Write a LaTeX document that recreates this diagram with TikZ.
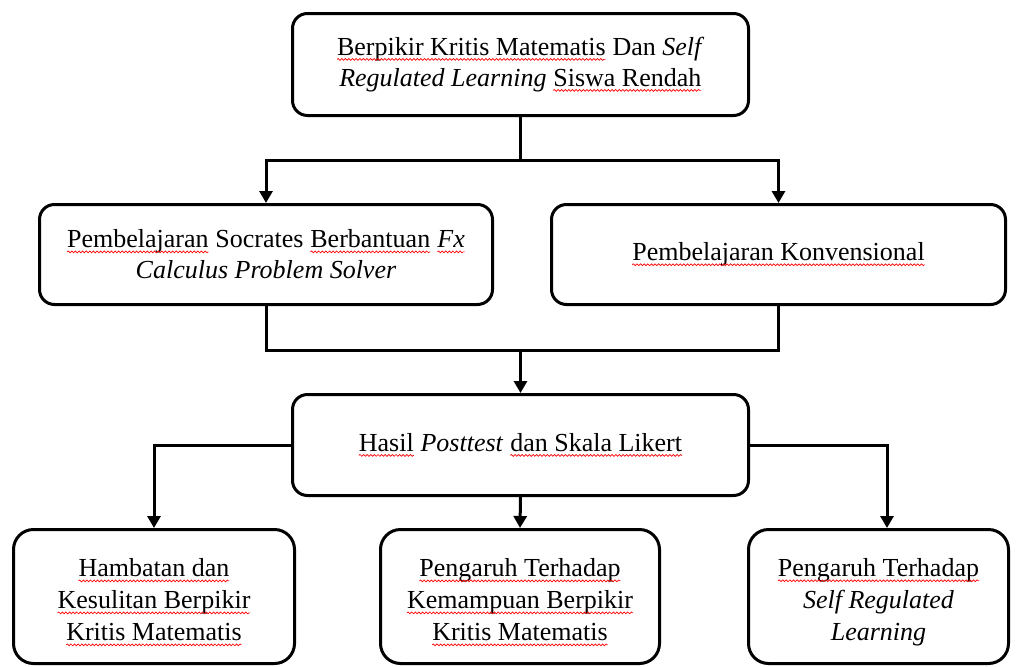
\documentclass[tikz,border=0pt]{standalone}
\usepackage{fontspec}
\setmainfont{Liberation Serif}
\usetikzlibrary{arrows.meta,decorations.pathmorphing}
\newcommand\sq[1]{\tikz[baseline=(sqw.base),x=1pt,y=1pt]{%
  \node[draw=none,inner sep=0pt,outer sep=0pt,minimum width=0pt,minimum height=0pt,
    rounded corners=0pt,align=left] (sqw) {#1};
  \draw[red,line width=0.7pt,rounded corners=0pt,decorate,
    decoration={snake,amplitude=0.9pt,segment length=3.6pt}]
    ([yshift=-4pt]sqw.base west) -- ([yshift=-4pt]sqw.base east);}}
\begin{document}
\begin{tikzpicture}[x=1pt,y=-1pt,
  box/.style={draw,line width=3pt,rounded corners=15pt,align=center,inner sep=0pt,
    font=\fontsize{26}{31}\selectfont},
  smallbox/.style={box,rounded corners=20pt,minimum height=134pt,
    font=\fontsize{26}{32}\selectfont},
  ln/.style={line width=3pt},
  arr/.style={line width=3pt,-{Triangle[width=13pt,length=12pt]}}]
\useasboundingbox (0,0) rectangle (1021,667);

\node[box,minimum width=456pt,minimum height=102pt] (top) at (520.5,64.5)
  {\sq{Berpikir Kritis Matematis} Dan \textit{Self}\\ \textit{Regulated Learning} \sq{Siswa Rendah}};
\node[box,minimum width=453pt,minimum height=100pt] (left) at (266,254.5)
  {\sq{Pembelajaran} Socrates \sq{Berbantuan} \sq{\textit{Fx}}\\ \textit{Calculus Problem Solver}};
\node[box,minimum width=454pt,minimum height=100pt] (right) at (778.5,254.5)
  {\sq{Pembelajaran Konvensional}};
\node[box,minimum width=456pt,minimum height=101pt] (mid) at (520.5,445)
  {\sq{Hasil} \textit{Posttest} \sq{dan Skala Likert}};
\node[smallbox,minimum width=281pt] (bl) at (154,596.5)
  {\rule{0pt}{30pt}\sq{Hambatan dan}\\ \sq{Kesulitan Berpikir}\\ \sq{Kritis Matematis}};
\node[smallbox,minimum width=279pt] (bm) at (520,596.5)
  {\rule{0pt}{30pt}\sq{Pengaruh Terhadap}\\ \sq{Kemampuan Berpikir}\\ \sq{Kritis Matematis}};
\node[smallbox,minimum width=260pt] (br) at (878.5,596.5)
  {\rule{0pt}{30pt}\sq{Pengaruh Terhadap}\\ \textit{Self Regulated}\\ \textit{Learning}};

% top -> two methods
\coordinate (j1) at (520.5,160);
\draw[ln] (top.south) -- (j1);
\draw[arr] (j1) -| (left.north);
\draw[arr] (j1) -| (right.north);

% two methods -> results
\coordinate (j2) at (520.5,350);
\draw[ln] (left.south) |- (j2) -| (right.south);
\draw[arr] (j2) -- (mid.north);

% results -> three outcomes
\coordinate (brin) at (887,528);
\draw[arr] (mid.west) -| (bl.north);
\draw[arr] (mid.south) -- (bm.north);
\draw[arr] (mid.east) -| (brin);
\end{tikzpicture}
\end{document}
